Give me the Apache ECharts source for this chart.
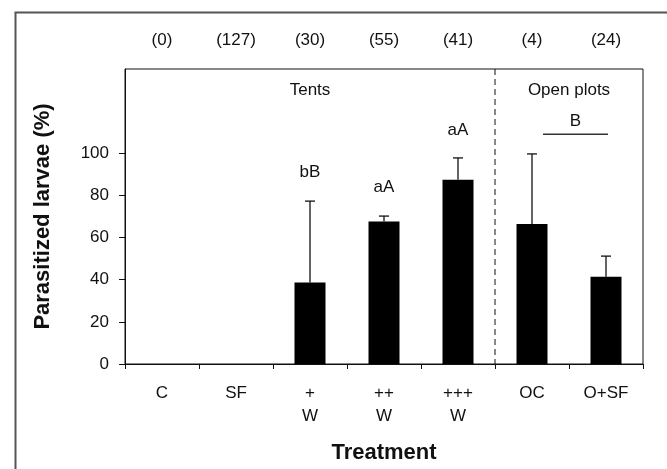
<!DOCTYPE html>
<html><head><meta charset="utf-8">
<script src="https://cdn.jsdelivr.net/npm/echarts@6/dist/echarts.min.js"></script>
<style>html,body{margin:0;padding:0;background:#fff}#c{width:667px;height:469px}</style>
</head><body><div id="c"></div>
<script>
var categories = ['C', 'SF', '+\nW', '++\nW', '+++\nW', 'OC', 'O+SF'];
var means = [0, 0, 38.7, 67.6, 87.4, 66.5, 41.4];
var errUpper = [null, null, 77.3, 70.2, 97.8, 99.7, 51.2];
var counts = ['(0)', '(127)', '(30)', '(55)', '(41)', '(4)', '(24)'];
var sigLetters = ['', '', 'bB', 'aA', 'aA', '', ''];
var sigY = [null, null, 91, 84, 111, null, null];
var yTicks = [0, 20, 40, 60, 80, 100];
var groupNames = ['Tents', 'Open plots'];
var groupRanges = [[0, 4], [5, 6]];
var groupBracket = { letter: 'B', from: 5, to: 6, y: 109, letterY: 115 };

var FONT = 'Liberation Sans, Arial, sans-serif';
var chart = echarts.init(document.getElementById('c'));

var errData = [], sigData = [], countData = [];
for (var i = 0; i < categories.length; i++) {
  if (errUpper[i] != null) errData.push([i, means[i], errUpper[i]]);
  if (sigLetters[i]) sigData.push([i, sigY[i], sigLetters[i]]);
  countData.push([i, 0, counts[i]]);
}

chart.setOption({
  animation: false,
  backgroundColor: '#fff',
  graphic: [{
    type: 'rect', left: 13, top: 10, z: -1,
    shape: { width: 720, height: 520 },
    style: { fill: 'none', stroke: '#555', lineWidth: 2 }
  }],
  grid: { left: 125, top: 69, right: 24, bottom: 100, show: true, borderColor: '#111', borderWidth: 1, backgroundColor: 'transparent' },
  xAxis: {
    type: 'category', data: categories,
    axisLine: { lineStyle: { color: '#111', width: 1 } },
    axisTick: { show: true, length: 5, lineStyle: { color: '#111' } },
    axisLabel: { color: '#111', fontSize: 17, fontFamily: FONT, margin: 18, lineHeight: 23, interval: 0 },
    name: 'Treatment', nameLocation: 'middle', nameGap: 78,
    nameTextStyle: { color: '#111', fontSize: 22, fontWeight: 'bold', fontFamily: FONT }
  },
  yAxis: {
    type: 'value', min: 0, max: 140, interval: 20,
    splitLine: { show: false },
    axisLine: { show: true, lineStyle: { color: '#111', width: 1 } },
    axisTick: { show: true, length: 6, customValues: yTicks, lineStyle: { color: '#111' } },
    axisLabel: { color: '#111', fontSize: 17, fontFamily: FONT, margin: 16, customValues: yTicks },
    name: 'Parasitized larvae (%)', nameLocation: 'middle', nameGap: 71,
    nameTextStyle: { color: '#111', fontSize: 22, fontWeight: 'bold', fontFamily: FONT }
  },
  series: [
    {
      type: 'bar', data: means, barWidth: 31,
      itemStyle: { color: '#000' }, z: 2
    },
    {
      type: 'custom', data: errData, z: 3,
      renderItem: function (params, api) {
        var p0 = api.coord([api.value(0), api.value(1)]);
        var p1 = api.coord([api.value(0), api.value(2)]);
        var st = { stroke: '#111', lineWidth: 1.3 };
        return { type: 'group', children: [
          { type: 'line', shape: { x1: p0[0], y1: p0[1], x2: p1[0], y2: p1[1] }, style: st },
          { type: 'line', shape: { x1: p1[0] - 5, y1: p1[1], x2: p1[0] + 5, y2: p1[1] }, style: st }
        ] };
      }
    },
    {
      type: 'custom', data: sigData, z: 4,
      renderItem: function (params, api) {
        var p = api.coord([api.value(0), api.value(1)]);
        return { type: 'text', style: { x: p[0], y: p[1], text: sigData[params.dataIndex][2], fill: '#111', font: '17px ' + FONT, align: 'center', verticalAlign: 'middle' } };
      }
    },
    {
      type: 'custom', data: countData, z: 4, clip: false,
      renderItem: function (params, api) {
        var p = api.coord([api.value(0), 0]);
        var y = params.coordSys.y - 29;
        return { type: 'text', style: { x: p[0], y: y, text: countData[params.dataIndex][2], fill: '#111', font: '17px ' + FONT, align: 'center', verticalAlign: 'middle' } };
      }
    },
    {
      type: 'custom', data: [[0, 0]], z: 4, clip: false,
      renderItem: function (params, api) {
        var bw = api.size([1, 0])[0];
        var cs = params.coordSys;
        var children = [];
        for (var g = 0; g < groupNames.length; g++) {
          var a = api.coord([groupRanges[g][0], 0])[0] - bw / 2;
          var b = api.coord([groupRanges[g][1], 0])[0] + bw / 2;
          children.push({ type: 'text', style: { x: (a + b) / 2, y: cs.y + 21, text: groupNames[g], fill: '#111', font: '17px ' + FONT, align: 'center', verticalAlign: 'middle' } });
        }
        var dx = api.coord([groupRanges[0][1], 0])[0] + bw / 2;
        children.push({ type: 'line', shape: { x1: dx, y1: cs.y, x2: dx, y2: cs.y + cs.height }, style: { stroke: '#111', lineWidth: 1, lineDash: [6, 4] } });
        var l1 = api.coord([groupBracket.from, groupBracket.y]);
        var l2 = api.coord([groupBracket.to, groupBracket.y]);
        var x1 = l1[0] + 11, x2 = l2[0] + 2;
        children.push({ type: 'line', shape: { x1: x1, y1: l1[1], x2: x2, y2: l1[1] }, style: { stroke: '#333', lineWidth: 1.5 } });
        var ly = api.coord([groupBracket.from, groupBracket.letterY])[1];
        children.push({ type: 'text', style: { x: (x1 + x2) / 2, y: ly, text: groupBracket.letter, fill: '#111', font: '17px ' + FONT, align: 'center', verticalAlign: 'middle' } });
        return { type: 'group', children: children };
      }
    }
  ]
});
</script></body></html>
